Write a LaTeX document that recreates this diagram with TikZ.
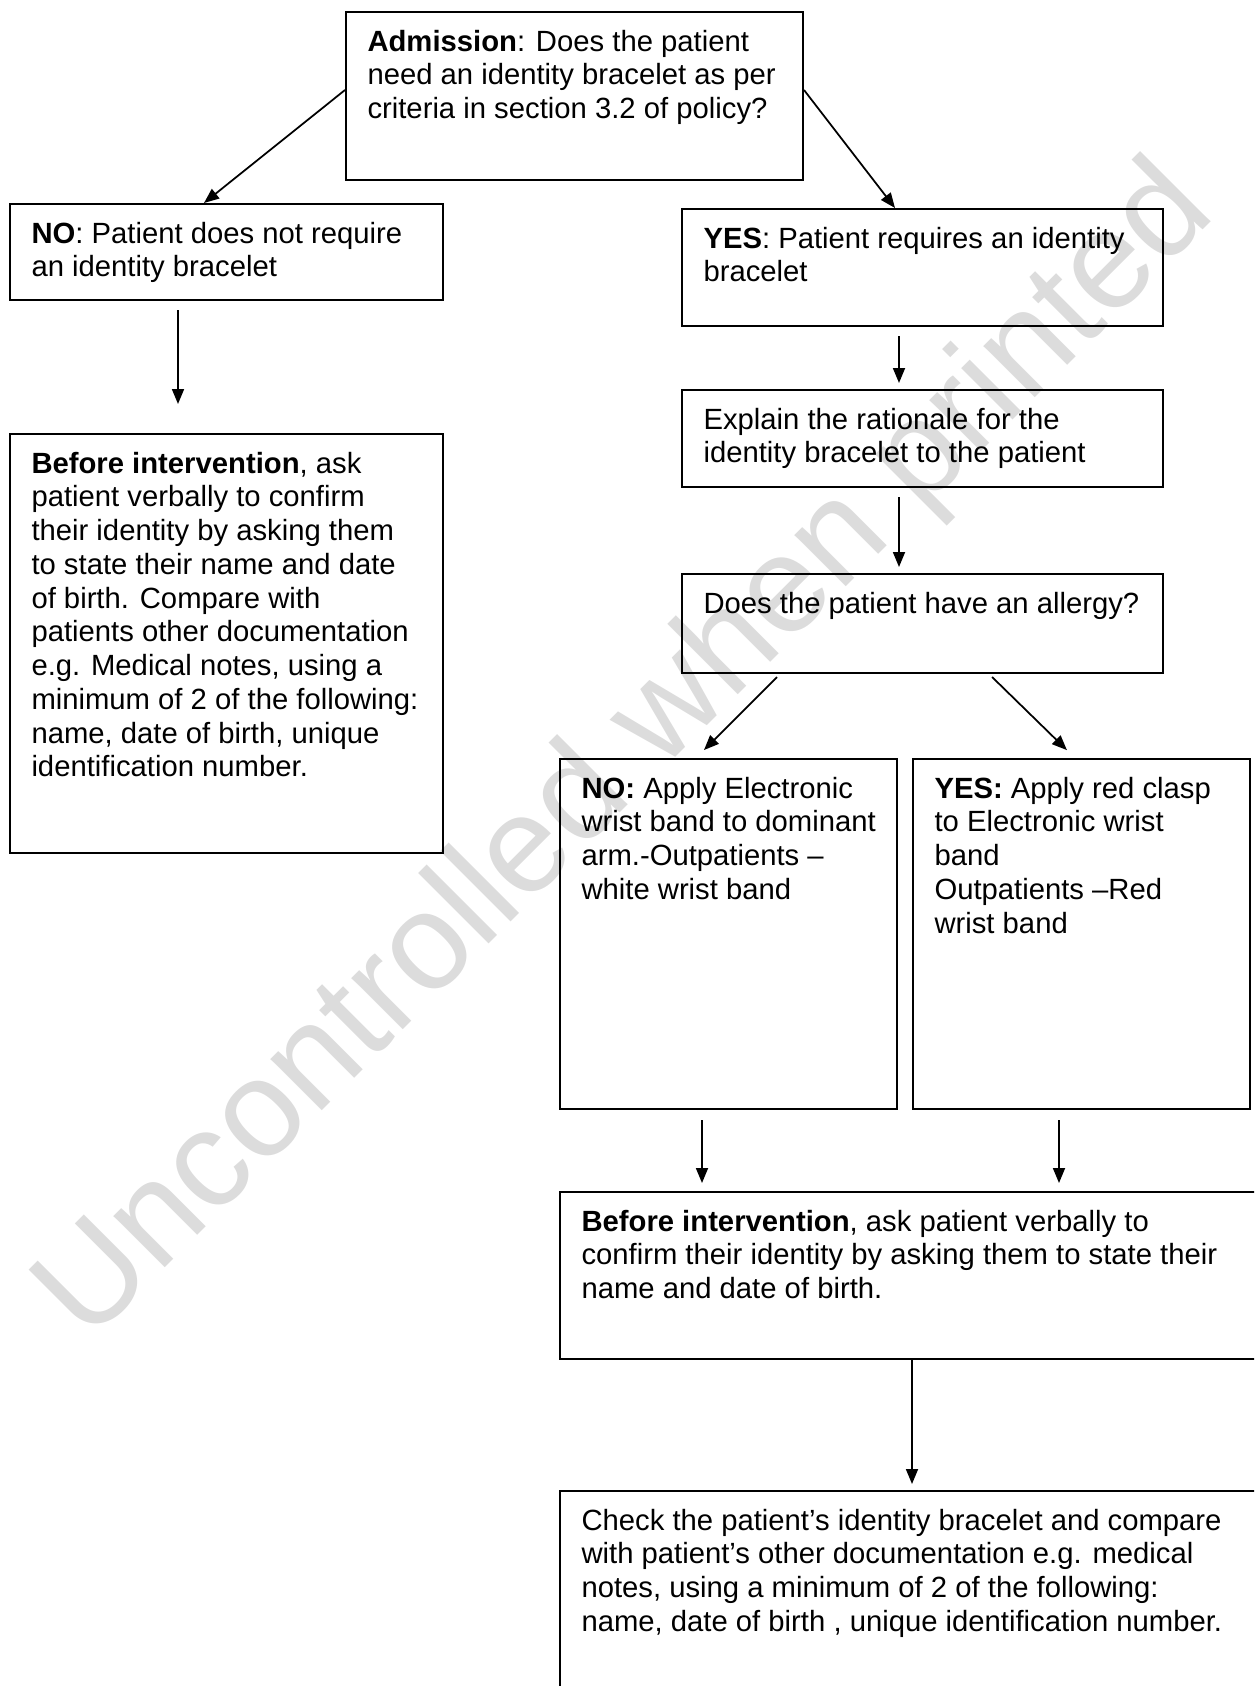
\documentclass[tikz,border=0pt]{standalone}
\usepackage{fontspec}
\setmainfont{Liberation Sans}
\usetikzlibrary{arrows.meta}

\definecolor{wmgray}{RGB}{220,220,220}

\tikzset{
  box/.style 2 args={draw, line width=0.8pt, anchor=north west, inner sep=0pt,
    minimum width=#1*0.4pt, minimum height=#2*0.4pt},
  txt/.style={anchor=north west, inner sep=0pt, align=left,
    font=\fontsize{11.7}{13.5}\selectfont},
  arr/.style={-{Triangle[length=6pt,width=4.8pt]}, line width=0.7pt},
  wm/.style={text=wmgray, inner sep=0pt, font=\fontsize{55}{60}\selectfont}
}

\begin{document}
\begin{tikzpicture}[x=0.4pt, y=-0.4pt]
  \clip (0,0) rectangle (1254,1686);

  % Watermark behind everything
  \node[wm, rotate=45, anchor=base west] (wmark) at (88,1345) {Uncontrolled when printed};

  % Boxes
  \node[box={457}{168}] (adm) at (345,11) {};
  \node[box={433}{96}] (noreq) at (9,203) {};
  \node[box={481}{117}] (yesreq) at (681,208) {};
  \node[box={433}{419}] (lbefore) at (9,433) {};
  \node[box={481}{97}] (explain) at (681,389) {};
  \node[box={481}{99}] (allergy) at (681,573) {};
  \node[box={337}{350}] (noapp) at (559,758) {};
  \node[box={337}{350}] (yesapp) at (912,758) {};
  \node[box={711}{167}] (rbefore) at (559,1191) {};
  \node[box={711}{230}] (check) at (559,1490) {};

  % Texts
  \node[txt] (admtxt) at ([xshift=8.8pt,yshift=-7.4pt]adm.north west)
    {\textbf{Admission}: Does the patient\\need an identity bracelet as per\\criteria in section 3.2 of policy?};
  \node[txt] (noreqtxt) at ([xshift=8.8pt,yshift=-7.4pt]noreq.north west)
    {\textbf{NO}: Patient does not require\\an identity bracelet};
  \node[txt] (yesreqtxt) at ([xshift=8.8pt,yshift=-7.4pt]yesreq.north west)
    {\textbf{YES}: Patient requires an identity\\bracelet};
  \node[txt] (lbeforetxt) at ([xshift=8.8pt,yshift=-7.4pt]lbefore.north west)
    {\textbf{Before intervention}, ask\\patient verbally to confirm\\their identity by asking them\\to state their name and date\\of birth. Compare with\\patients other documentation\\e.g. Medical notes, using a\\minimum of 2 of the following:\\name, date of birth, unique\\identification number.};
  \node[txt] (explaintxt) at ([xshift=8.8pt,yshift=-7.4pt]explain.north west)
    {Explain the rationale for the\\identity bracelet to the patient};
  \node[txt] (allergytxt) at ([xshift=8.8pt,yshift=-7.4pt]allergy.north west)
    {Does the patient have an allergy?};
  \node[txt] (noapptxt) at ([xshift=8.8pt,yshift=-7.4pt]noapp.north west)
    {\textbf{NO:} Apply Electronic\\wrist band to dominant\\arm.-Outpatients –\\white wrist band};
  \node[txt] (yesapptxt) at ([xshift=8.8pt,yshift=-7.4pt]yesapp.north west)
    {\textbf{YES:} Apply red clasp\\to Electronic wrist\\band\\Outpatients –Red\\wrist band};
  \node[txt] (rbeforetxt) at ([xshift=8.8pt,yshift=-7.4pt]rbefore.north west)
    {\textbf{Before intervention}, ask patient verbally to\\confirm their identity by asking them to state their\\name and date of birth.};
  \node[txt] (checktxt) at ([xshift=8.8pt,yshift=-7.4pt]check.north west)
    {Check the patient’s identity bracelet and compare\\with patient’s other documentation e.g. medical\\notes, using a minimum of 2 of the following:\\name, date of birth , unique identification number.};

  % Connectors
  \draw[arr] ([yshift=2.4pt]adm.west) -- (noreq.north -| 204,0);
  \draw[arr] ([yshift=2.4pt]adm.east) -- (yesreq.north -| 895,0);
  \draw[arr, shorten <=3.6pt, shorten >=11.6pt] (noreq.south -| 178,0) -- (lbefore.north -| 178,0);
  \draw[arr, shorten <=3.6pt, shorten >=2.4pt] (yesreq.south -| 899,0) -- (explain.north -| 899,0);
  \draw[arr, shorten <=3.6pt, shorten >=2.4pt] (explain.south -| 899,0) -- (allergy.north -| 899,0);
  \draw[arr, shorten <=1.7pt, shorten >=4.5pt] (allergy.south -| 780,0) -- (noapp.north -| 696,0);
  \draw[arr, shorten <=1.7pt, shorten >=4.5pt] (allergy.south -| 989,0) -- (yesapp.north -| 1075,0);
  \draw[arr, shorten <=4pt, shorten >=3.2pt] (noapp.south -| 702,0) -- (rbefore.north -| 702,0);
  \draw[arr, shorten <=4pt, shorten >=3.2pt] (yesapp.south -| 1059,0) -- (rbefore.north -| 1059,0);
  \draw[arr, shorten >=2.4pt] (rbefore.south -| 912,0) -- (check.north -| 912,0);
\end{tikzpicture}
\end{document}
